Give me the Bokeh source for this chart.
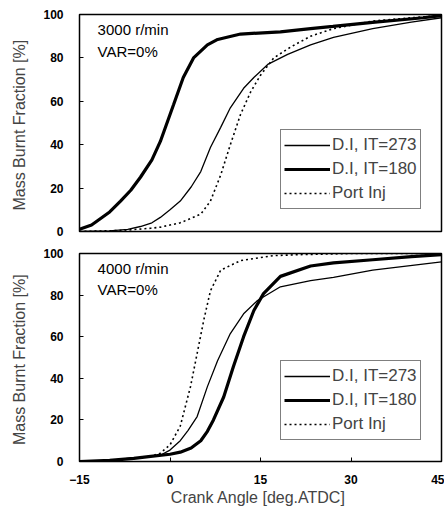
from bokeh.plotting import figure
from bokeh.layouts import column
from bokeh.models import FixedTicker, Legend, LegendItem, Label, Range1d
from bokeh.embed import file_html
from bokeh.resources import INLINE

# ---------------- data ----------------
x_ticks = [-15, 0, 15, 30, 45]
y_ticks = [0, 20, 40, 60, 80, 100]
series_names = ["D.I, IT=273", "D.I, IT=180", "Port Inj"]

# 3000 r/min
t_di273_x = [-15, -10, -7, -4.9, -3, -1.6, 0, 1.7, 3.5, 5.1, 6.7, 8.4, 10, 12.2, 13.9, 16.2, 19.5, 23.3, 27.1, 33.6, 40, 45]
t_di273_y = [0, 0.3, 1, 2.3, 4, 6.5, 10, 14, 20.5, 27.6, 38.7, 48, 57, 66, 71, 77, 81.6, 86, 89.5, 93.5, 96.5, 98.5]
t_di180_x = [-15, -13, -11.5, -10, -8.2, -6.5, -4.9, -3, -1.6, 0.6, 2.2, 3.9, 6.2, 7.9, 11.7, 18.3, 23.3, 27, 34, 42, 45]
t_di180_y = [1, 3, 6, 9, 14, 19, 25, 33, 41.5, 58.5, 71, 80, 86, 88.5, 91, 92, 93.5, 94.5, 96.5, 98.5, 99.5]
t_port_x = [-15, -8, -3.2, -1.6, 1.7, 5.1, 6.7, 8.4, 10, 11.7, 13.4, 15, 17.2, 20, 23.3, 27.1, 33.6, 40, 45]
t_port_y = [0, 0.5, 1.5, 2, 4, 8, 14, 26, 40, 54, 64.5, 72, 80, 85, 90, 93.5, 97, 98.5, 99.5]

# 4000 r/min
b_di273_x = [-15, -10, -7, -4.9, -1.6, 0, 1.7, 3, 4.5, 6.2, 7.9, 10, 12.2, 14.5, 18.3, 23.3, 27.1, 33.6, 45]
b_di273_y = [0, 0.5, 1.5, 2, 3, 5.5, 10, 15, 21.6, 36, 48.6, 61.5, 71, 77.4, 84, 87, 88.5, 92, 96]
b_di180_x = [-15, -10, -6, -3.2, 0, 1.7, 3.5, 5.1, 6.2, 7.2, 8.9, 10.5, 12.2, 13.9, 15.5, 18.3, 23.3, 27.1, 33.6, 40, 45]
b_di180_y = [0, 0.5, 1.5, 2.5, 3.5, 4.5, 6.5, 10, 14.5, 20, 31, 45.6, 60, 72.6, 80.7, 89, 94, 95.5, 97, 98.5, 99.5]
b_port_x = [-15, -9.9, -6, -3.2, -1.6, 0, 1.7, 3.4, 4.5, 5.6, 6.7, 8.4, 11.7, 17.2, 22, 30, 45]
b_port_y = [0, 0.5, 1.5, 2.5, 4, 8, 17, 36, 52, 68, 82, 92, 96.6, 99, 99.5, 100, 100]

panel_titles = [["3000 r/min", "VAR=0%"], ["4000 r/min", "VAR=0%"]]
x_label = "Crank Angle  [deg.ATDC]"
y_label = "Mass Burnt Fraction  [%]"

FONT = "Liberation Sans"


def make_panel(height, border_top, border_bottom, curves, titles, show_x, legend_y):
    p = figure(width=444, height=height, output_backend="svg", toolbar_location=None,
               x_range=Range1d(-15, 45), y_range=Range1d(0, 100),
               min_border_left=79, min_border_right=3,
               min_border_top=border_top, min_border_bottom=border_bottom)
    p.grid.visible = False
    p.outline_line_color = "black"
    p.outline_line_width = 1.5
    p.background_fill_color = "white"
    p.border_fill_color = "white"

    p.yaxis.ticker = FixedTicker(ticks=y_ticks)
    p.yaxis.axis_line_color = "black"
    p.yaxis.major_tick_in = 4
    p.yaxis.major_tick_out = 0
    p.yaxis.minor_tick_line_color = None
    p.yaxis.major_label_standoff = 16
    p.yaxis.major_label_text_font = FONT
    p.yaxis.major_label_text_font_size = "12px"
    p.yaxis.major_label_text_font_style = "bold"
    p.yaxis.major_label_text_color = "black"
    p.yaxis.axis_label = y_label
    p.yaxis.axis_label_text_font = FONT
    p.yaxis.axis_label_text_font_size = "16px"
    p.yaxis.axis_label_text_font_style = "normal"
    p.yaxis.axis_label_standoff = 12

    if show_x:
        p.xaxis.ticker = FixedTicker(ticks=x_ticks)
        p.xaxis.major_tick_in = 4
        p.xaxis.major_tick_out = 0
        p.xaxis.minor_tick_line_color = None
        p.xaxis.major_label_standoff = 13
        p.xaxis.major_label_text_font = FONT
        p.xaxis.major_label_text_font_size = "12px"
        p.xaxis.major_label_text_font_style = "bold"
        p.xaxis.major_label_text_color = "black"
        p.xaxis.axis_label = x_label
        p.xaxis.axis_label_text_font = FONT
        p.xaxis.axis_label_text_font_size = "16px"
        p.xaxis.axis_label_text_font_style = "normal"
        p.xaxis.axis_label_standoff = 2
    else:
        p.xaxis.visible = False

    styles = [dict(line_width=1.3, line_color="black"),
              dict(line_width=3.2, line_color="black"),
              dict(line_width=1.6, line_color="black", line_dash="2 3")]
    items = []
    for (xs, ys), name, st in zip(curves, series_names, styles):
        r = p.line(xs, ys, **st)
        items.append(LegendItem(label=name, renderers=[r]))

    legend = Legend(items=items, location=(201, legend_y), border_line_color="black",
                    border_line_width=1, background_fill_alpha=1,
                    label_text_font=FONT, label_text_font_size="17px",
                    glyph_width=46, glyph_height=24, label_height=24,
                    label_standoff=2, spacing=0, padding=3, margin=0)
    p.add_layout(legend, "center")

    p.add_layout(Label(x=-12, y=97, text=titles[0], text_baseline="top",
                       text_font=FONT, text_font_size="15px", text_color="black"))
    p.add_layout(Label(x=-12, y=87, text=titles[1], text_baseline="top",
                       text_font=FONT, text_font_size="15px", text_color="black"))
    return p


p1 = make_panel(242, 14, 11,
                [(t_di273_x, t_di273_y), (t_di180_x, t_di180_y), (t_port_x, t_port_y)],
                panel_titles[0], False, 22)
p2 = make_panel(266, 11, 47,
                [(b_di273_x, b_di273_y), (b_di180_x, b_di180_y), (b_port_x, b_port_y)],
                panel_titles[1], True, 21)

layout = column(p1, p2, spacing=0)
open("out.html", "w").write(file_html(layout, INLINE))
